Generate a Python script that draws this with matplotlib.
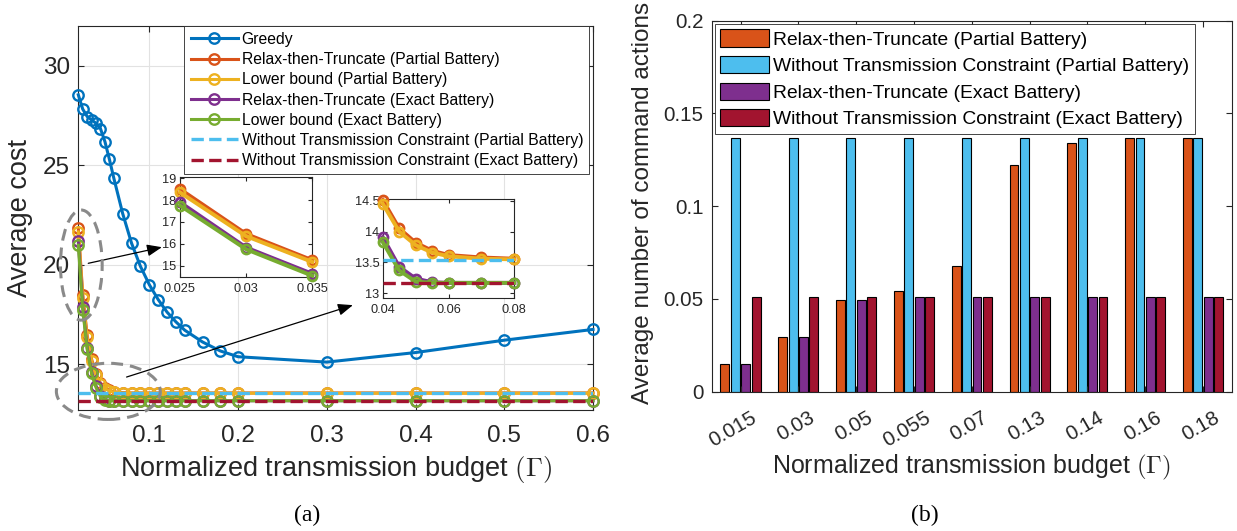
import numpy as np
import matplotlib
matplotlib.use('Agg')
import matplotlib.pyplot as plt
from matplotlib.patches import Ellipse
from matplotlib.ticker import FormatStrFormatter
from matplotlib.transforms import ScaledTranslation

plt.rcParams['font.family'] = ['Liberation Sans', 'DejaVu Sans']
plt.rcParams['mathtext.fontset'] = 'cm'

# ---- panel (a): average cost vs. normalized transmission budget ----
budget = [0.02, 0.025, 0.03, 0.035, 0.04, 0.045, 0.05, 0.055, 0.06, 0.07, 0.08, 0.09,
          0.1, 0.11, 0.12, 0.13, 0.14, 0.16, 0.18, 0.2, 0.3, 0.4, 0.5, 0.6]
greedy = [28.53, 27.81, 27.44, 27.27, 27.1, 26.83, 26.18, 25.3, 24.35, 22.57, 21.08, 19.92,
          19.0, 18.25, 17.62, 17.13, 16.71, 16.12, 15.67, 15.38, 15.11, 15.59, 16.21, 16.75]
rtt_partial = [21.85, 18.5, 16.45, 15.25, 14.51, 14.05, 13.82, 13.69, 13.62, 13.58, 13.56, 13.56,
               13.56, 13.56, 13.56, 13.56, 13.56, 13.56, 13.56, 13.56, 13.56, 13.56, 13.56, 13.56]
lb_partial = [21.65, 18.35, 16.35, 15.17, 14.45, 14.0, 13.78, 13.66, 13.6, 13.56, 13.55, 13.55,
              13.55, 13.55, 13.55, 13.55, 13.55, 13.55, 13.55, 13.55, 13.55, 13.55, 13.55, 13.55]
rtt_exact = [21.2, 17.9, 15.83, 14.63, 13.91, 13.43, 13.24, 13.18, 13.17, 13.17, 13.17, 13.17,
             13.17, 13.17, 13.17, 13.17, 13.17, 13.17, 13.17, 13.17, 13.17, 13.17, 13.17, 13.17]
lb_exact = [20.98, 17.75, 15.75, 14.54, 13.83, 13.37, 13.19, 13.17, 13.17, 13.17, 13.17, 13.17,
            13.17, 13.17, 13.17, 13.17, 13.17, 13.17, 13.17, 13.17, 13.17, 13.17, 13.17, 13.17]
no_tx_partial = 13.54
no_tx_exact = 13.17

# ---- panel (b): average number of command actions ----
budget_labels = ['0.015', '0.03', '0.05', '0.055', '0.07', '0.13', '0.14', '0.16', '0.18']
cmd_rtt_partial = [0.0148, 0.0297, 0.0493, 0.0542, 0.068, 0.1223, 0.1342, 0.1368, 0.1368]
cmd_no_tx_partial = [0.1368, 0.1368, 0.1368, 0.1368, 0.1368, 0.1368, 0.1368, 0.1368, 0.1368]
cmd_rtt_exact = [0.0148, 0.0297, 0.0493, 0.051, 0.051, 0.051, 0.051, 0.051, 0.051]
cmd_no_tx_exact = [0.051, 0.051, 0.051, 0.051, 0.051, 0.051, 0.051, 0.051, 0.051]

BLUE = '#0072BD'
ORANGE = '#D95319'
YELLOW = '#EDB120'
PURPLE = '#7E2F8E'
GREEN = '#77AC30'
CYAN = '#4DBEEE'
DARKRED = '#A2142F'
AXC = '#262626'

GAMMA_LABEL = r'Normalized transmission budget $(\Gamma)$'


def box_axes(ax, size, pad=6, length=4):
    for s in ax.spines.values():
        s.set_color(AXC)
        s.set_linewidth(0.8)
    ax.tick_params(direction='in', top=True, right=True, length=length, width=0.8,
                   colors=AXC, labelsize=size, pad=pad)


def cost_series():
    return [(greedy, BLUE, 'Greedy'),
            (rtt_partial, ORANGE, 'Relax-then-Truncate (Partial Battery)'),
            (lb_partial, YELLOW, 'Lower bound (Partial Battery)'),
            (rtt_exact, PURPLE, 'Relax-then-Truncate (Exact Battery)'),
            (lb_exact, GREEN, 'Lower bound (Exact Battery)')]


def plot_cost(fig):
    ax = fig.add_axes([0.0633, 0.2288, 0.4161, 0.7228])
    for vals, c, lab in cost_series():
        ax.plot(budget, vals, '-o', color=c, lw=2.2, ms=7.5, mfc='none', mew=1.7,
                label=lab, clip_on=False, zorder=3)
    ax.axhline(no_tx_partial, color=CYAN, ls='--', lw=2.4, zorder=4,
               label='Without Transmission Constraint (Partial Battery)')
    ax.axhline(no_tx_exact, color=DARKRED, ls='--', lw=2.4, zorder=4,
               label='Without Transmission Constraint (Exact Battery)')

    ax.set_xlim(0.02, 0.6)
    ax.set_ylim(12.73, 32.0)
    ax.set_xticks([0.1, 0.2, 0.3, 0.4, 0.5, 0.6])
    ax.set_yticks([15, 20, 25, 30])
    ax.xaxis.set_major_formatter(FormatStrFormatter('%g'))
    ax.grid(True, color='#e2e2e2', lw=0.8)
    ax.set_axisbelow(True)
    box_axes(ax, 17.5)
    ax.tick_params(axis='x', pad=11)
    ax.set_xlabel(GAMMA_LABEL, fontsize=19.5, color=AXC)
    ax.set_ylabel('Average cost', fontsize=19.5, color=AXC)
    ax.xaxis.set_label_coords(0.5, -0.115)
    ax.yaxis.set_label_coords(-0.088, 0.5)

    leg = ax.legend(loc='upper right', bbox_to_anchor=(0.993, 1.0), fontsize=11.3,
                    handlelength=3.0, handletextpad=0.25, labelspacing=0.33,
                    borderpad=0.4, borderaxespad=0, fancybox=False, framealpha=1,
                    edgecolor=AXC, numpoints=1)
    leg.get_frame().set_linewidth(0.6)

    # zoom markers: dashed ellipses and arrows pointing at the insets
    for (cx, cy, w, h) in [(0.0234, 19.98, 0.047, 5.53), (0.0538, 13.64, 0.117, 2.82)]:
        ax.add_patch(Ellipse((cx, cy), w, h, fill=False, ec='#8a8a8a', lw=2.2,
                             ls=(0, (3.9, 2.3)), clip_on=False, zorder=5))
    for (x0, y0, x1, y1) in [(0.0312, 20.07, 0.1142, 20.88), (0.0744, 14.36, 0.3294, 17.97)]:
        ax.annotate('', xy=(x1, y1), xytext=(x0, y0), annotation_clip=False,
                    arrowprops=dict(arrowstyle='-|>,head_length=0.75,head_width=0.3',
                                    color='k', lw=0.9, shrinkA=0, shrinkB=0,
                                    mutation_scale=12))
    return ax


def plot_inset(fig, rect, lo, hi, ylim, xticks, yticks, with_dashed):
    ins = fig.add_axes(rect)
    b = np.array(budget)
    m = (b >= lo - 1e-9) & (b <= hi + 1e-9)
    for vals, c, lab in cost_series()[1:]:
        ins.plot(b[m], np.array(vals)[m], '-o', color=c, lw=2.8, ms=6.5, mfc='none',
                 mew=2.0, clip_on=False, zorder=3)
    if with_dashed:
        ins.axhline(no_tx_partial, color=CYAN, ls='--', lw=2.4, zorder=4)
        ins.axhline(no_tx_exact, color=DARKRED, ls='--', lw=2.4, zorder=4)
    ins.set_xlim(lo, hi)
    ins.set_ylim(*ylim)
    ins.set_xticks(xticks)
    ins.set_yticks(yticks)
    ins.xaxis.set_major_formatter(FormatStrFormatter('%g'))
    ins.yaxis.set_major_formatter(FormatStrFormatter('%g'))
    box_axes(ins, 9.2, pad=2.5, length=3)
    ins.tick_params(axis='x', pad=4)
    return ins


def plot_commands(fig):
    ax = fig.add_axes([0.5753, 0.2623, 0.4206, 0.6987])
    x = np.arange(1, len(budget_labels) + 1)
    step, width = 0.18, 0.155
    bars = [(cmd_rtt_partial, ORANGE, 'Relax-then-Truncate (Partial Battery)'),
            (cmd_no_tx_partial, CYAN, 'Without Transmission Constraint (Partial Battery)'),
            (cmd_rtt_exact, PURPLE, 'Relax-then-Truncate (Exact Battery)'),
            (cmd_no_tx_exact, DARKRED, 'Without Transmission Constraint (Exact Battery)')]
    for i, (vals, c, lab) in enumerate(bars):
        ax.bar(x + (i - 1.5) * step, vals, width, color=c, edgecolor='k', lw=0.8, label=lab)
    ax.set_xlim(0.5, len(budget_labels) + 0.5)
    ax.set_ylim(0, 0.2)
    ax.set_yticks([0, 0.05, 0.1, 0.15, 0.2])
    ax.yaxis.set_major_formatter(FormatStrFormatter('%g'))
    ax.set_xticks(x)
    ax.set_xticklabels(budget_labels, rotation=30, ha='right', va='top',
                       rotation_mode='anchor')
    box_axes(ax, 14.8)
    ax.tick_params(axis='x', pad=12)
    shift = ScaledTranslation(10 / 100, 0, fig.dpi_scale_trans)
    for lbl in ax.get_xticklabels():
        lbl.set_transform(lbl.get_transform() + shift)
    ax.set_xlabel(GAMMA_LABEL, fontsize=18, color=AXC)
    ax.set_ylabel('Average number of command actions', fontsize=17.5, color=AXC)
    ax.xaxis.set_label_coords(0.5, -0.165)
    ax.yaxis.set_label_coords(-0.111, 0.51)
    leg = ax.legend(loc='upper left', fontsize=13.9, handlelength=2.5, handleheight=1.0,
                    handletextpad=0.25, labelspacing=0.38, borderpad=0.3,
                    borderaxespad=0.15, fancybox=False, framealpha=1, edgecolor=AXC)
    leg.get_frame().set_linewidth(0.6)
    return ax


if __name__ == '__main__':
    fig = plt.figure(figsize=(12.37, 5.31), dpi=100)
    plot_cost(fig)
    plot_inset(fig, [0.1455, 0.4778, 0.1070, 0.1895], 0.025, 0.035, (14.47, 19.07),
               [0.025, 0.03, 0.035], [15, 16, 17, 18, 19], False)
    plot_inset(fig, [0.3094, 0.4382, 0.1064, 0.1864], 0.04, 0.08, (12.92, 14.52),
               [0.04, 0.06, 0.08], [13, 13.5, 14, 14.5], True)
    plot_commands(fig)
    fig.text(307 / 1237, 1 - 515 / 531, '(a)', ha='center', va='center',
             family='Liberation Serif', fontsize=17)
    fig.text(925 / 1237, 1 - 515 / 531, '(b)', ha='center', va='center',
             family='Liberation Serif', fontsize=17)
    fig.savefig('out.png', dpi=100)
